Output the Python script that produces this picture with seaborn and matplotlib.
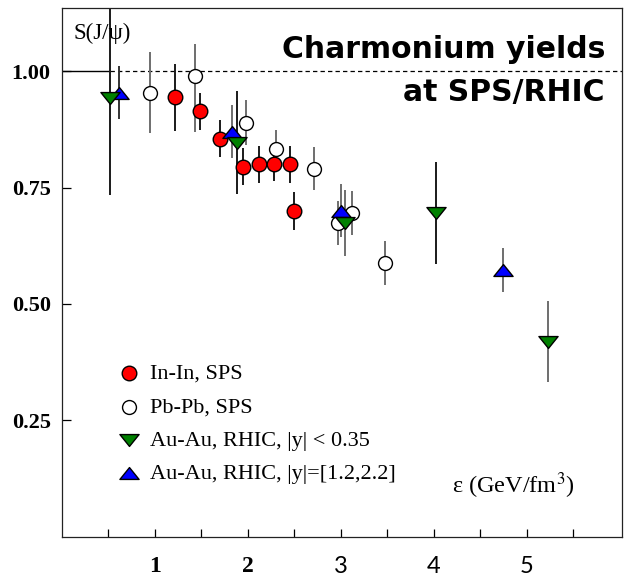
import numpy as np
import matplotlib
matplotlib.use("Agg")
import matplotlib.pyplot as plt
from matplotlib.path import Path
import seaborn as sns

# ---- data: J/psi survival probability vs energy density ----
inin_x = [1.22, 1.49, 1.70, 1.95, 2.12, 2.28, 2.45, 2.50]
inin_y = [0.944, 0.914, 0.855, 0.795, 0.800, 0.800, 0.800, 0.700]
inin_err = [0.072, 0.040, 0.040, 0.040, 0.040, 0.035, 0.040, 0.040]

pbpb_x = [0.95, 1.43, 1.98, 2.30, 2.71, 2.97, 3.12, 3.48]
pbpb_y = [0.954, 0.989, 0.890, 0.834, 0.791, 0.674, 0.696, 0.588]
pbpb_err_lo = [0.087, 0.120, 0.048, 0.040, 0.047, 0.048, 0.047, 0.047]
pbpb_err_hi = [0.087, 0.070, 0.048, 0.040, 0.047, 0.048, 0.047, 0.047]

mid_x = [0.52, 1.88, 3.05, 4.03, 5.23]
mid_y = [0.942, 0.847, 0.674, 0.696, 0.419]
mid_err = [0.207, 0.110, 0.070, 0.110, 0.087]

fwd_x = [0.61, 1.83, 3.00, 4.75]
fwd_y = [0.954, 0.870, 0.700, 0.573]
fwd_err = [0.057, 0.057, 0.057, 0.047]

labels = ["In-In, SPS", "Pb-Pb, SPS", "Au-Au, RHIC, |y| < 0.35",
          "Au-Au, RHIC, |y|=[1.2,2.2]"]
x_ticks = [0.5, 1, 1.5, 2, 2.5, 3, 3.5, 4, 4.5, 5, 5.5]
x_ticklabels = ["", "1", "", "2", "", "3", "", "4", "", "5", ""]
y_ticks = [0.25, 0.50, 0.75, 1.00]
y_ticklabels = ["0.25", "0.50", "0.75", "1.00"]

sns.set_style("ticks")
plt.rcParams["font.family"] = ["Liberation Serif", "DejaVu Serif"]
plt.rcParams["mathtext.fontset"] = "stix"
for key in ("text.color", "axes.labelcolor", "xtick.color", "ytick.color",
            "axes.edgecolor"):
    plt.rcParams[key] = "black"

fig = plt.figure(figsize=(6.25, 5.78), dpi=100)
ax = fig.add_axes([0.0989, 0.0715, 0.8968, 0.9138])
ax.set_xlim(0, 6.03)
ax.set_ylim(0, 1.135)

# flattened triangles
tri_up = Path([(-1, -0.62), (1, -0.62), (0, 0.62), (-1, -0.62)], closed=True)
tri_dn = Path([(-1, 0.62), (1, 0.62), (0, -0.62), (-1, 0.62)], closed=True)

# reference line at S = 1
ax.plot([0, mid_x[0]], [1, 1], color="black", lw=1.0, zorder=1)
ax.plot([mid_x[0], 6.03], [1, 1], color="black", lw=0.9,
        ls=(0, (3.5, 2.5)), zorder=1)

# error bars
def bars(x, y, lo, hi, cols):
    y = np.asarray(y)
    ax.vlines(x, y - np.asarray(lo), y + np.asarray(hi), colors=cols,
              lw=1.4, zorder=2)

grey = "#6e6e6e"
dark = "#1a1a1a"
bars(pbpb_x, pbpb_y, pbpb_err_lo, pbpb_err_hi, [grey] * len(pbpb_x))
bars(inin_x, inin_y, inin_err, inin_err, [dark] * len(inin_x))
bars(fwd_x, fwd_y, fwd_err, fwd_err, ["#333333", grey, grey, grey])
bars(mid_x, mid_y, mid_err, mid_err, [dark, dark, grey, dark, grey])

# markers
sns.scatterplot(x=pbpb_x, y=pbpb_y, ax=ax, marker="o", s=100,
                facecolor="white", edgecolor="black", linewidth=1.0,
                label=labels[1], zorder=3)
sns.scatterplot(x=inin_x, y=inin_y, ax=ax, marker="o", s=110,
                color="#ff0000", edgecolor="black", linewidth=1.0,
                label=labels[0], zorder=4)
sns.scatterplot(x=fwd_x, y=fwd_y, ax=ax, marker=tri_up, s=190,
                color="#0000ff", edgecolor="black", linewidth=1.0,
                label=labels[3], zorder=5)
sns.scatterplot(x=mid_x, y=mid_y, ax=ax, marker=tri_dn, s=190,
                color="#008000", edgecolor="black", linewidth=1.0,
                label=labels[2], zorder=6)

# legend in the fixed order
h, l = ax.get_legend_handles_labels()
order = [l.index(t) for t in labels]
ax.legend([h[i] for i in order], [l[i] for i in order],
          loc="upper left", bbox_to_anchor=(0.100, 0.328),
          frameon=False, fontsize=16, handlelength=1.0,
          handletextpad=0.45, labelspacing=0.58, borderpad=0,
          borderaxespad=0)

# axes, ticks
for sp in ax.spines.values():
    sp.set_linewidth(0.9)
    sp.set_color("#222222")
ax.set_xticks(x_ticks)
ax.set_xticklabels(x_ticklabels)
ax.set_yticks(y_ticks)
ax.set_yticklabels(y_ticklabels)
ax.tick_params(axis="x", direction="in", length=6, width=0.9, pad=14,
               labelsize=17)
ax.tick_params(axis="y", direction="in", length=6.5, width=0.9, pad=8,
               labelsize=16)
for t in ax.get_yticklabels():
    t.set_fontweight("bold")
for t, s in zip(ax.get_xticklabels(), x_ticklabels):
    if s in ("3", "4", "5"):
        t.set_family(["Lato", "DejaVu Sans"])
    else:
        t.set_fontweight("bold")

ax.set_xlabel("")
ax.set_ylabel("")

# annotations
ax.text(0.020, 0.952, "S(J/ψ)", transform=ax.transAxes, fontsize=16.5,
        ha="left", va="center")
ax.text(0.6956, 0.0827, "ε (GeV/fm$^3$)", transform=ax.transAxes,
        fontsize=17.5, ha="left", va="baseline")
ax.text(0.969, 0.9057, "Charmonium yields", transform=ax.transAxes,
        fontsize=21.5, fontweight="bold", family=["DejaVu Sans"],
        ha="right", va="baseline")
ax.text(0.969, 0.8249, "at SPS/RHIC", transform=ax.transAxes,
        fontsize=21.5, fontweight="bold", family=["DejaVu Sans"],
        ha="right", va="baseline")

fig.savefig("out.png", dpi=100, facecolor="white")
